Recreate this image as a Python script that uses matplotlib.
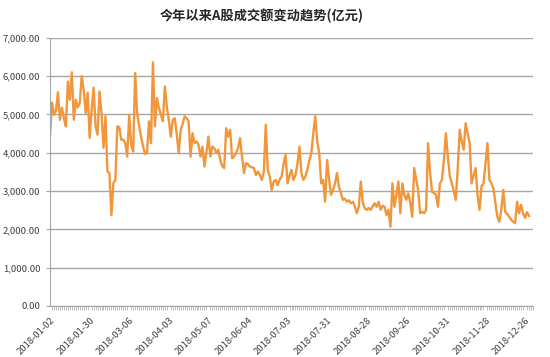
"""A-share daily turnover trend, 2018 (recreated chart)."""

import matplotlib

matplotlib.use("Agg")
import matplotlib.pyplot as plt
from matplotlib.ticker import FuncFormatter, MultipleLocator

plt.rcParams["font.family"] = ["Noto Sans CJK SC", "DejaVu Sans"]

TITLE = "今年以来A股成交额变动趋势(亿元)"
LINE_COLOR = "#F2963C"
GRID_COLOR = "#A6A6A6"
TEXT_COLOR = "#404040"

# daily turnover (亿元), one value per trading day
turnover = [
    4470, 5310, 4990, 5100, 5580, 4860, 5175, 4900, 4690, 5860,
    5385, 6100, 4860, 5385, 5180, 5300, 6000, 5650, 5040, 5570,
    4390, 5100, 5700, 4690, 4470, 5600, 5040, 4130, 4950, 3510,
    3470, 2370, 3210, 3290, 4690, 4660, 4340, 4340, 4260, 3900,
    4990, 4210, 4030, 6080, 5040, 4700, 4420, 4160, 3970, 4000,
    4820, 4250, 6360, 4690, 5430, 5170, 5000, 4820, 5730, 5200,
    4860, 4420, 4860, 4900, 4500, 3990, 4600, 4750, 4950, 4900,
    4820, 3900, 4510, 4250, 4300, 4210, 3900, 4160, 3640, 4000,
    4420, 3900, 4160, 4120, 3990, 4080, 3810, 3650, 3600, 4640,
    4420, 4600, 3860, 3900, 3990, 4120, 4380, 3900, 3470, 3730,
    3700, 3640, 3620, 3600, 3420, 3510, 3420, 3290, 3500, 4730,
    3550, 3380, 3030, 3250, 3290, 3150, 3300, 3380, 3700, 3940,
    3200, 3400, 3550, 3290, 3420, 3700, 4160, 3470, 3290, 3380,
    3550, 3800, 3990, 4500, 4950, 4300, 3990, 3200, 3290, 2720,
    3810, 3300, 2900, 3030, 3200, 3470, 3100, 2940, 2770, 2800,
    2720, 2760, 2680, 2720, 2600, 2420, 2590, 3250, 2700, 2550,
    2510, 2560, 2510, 2600, 2680, 2590, 2720, 2510, 2620, 2590,
    2370, 2510, 2070, 3200, 2590, 2900, 3250, 2420, 3200, 2900,
    2770, 2940, 2700, 2330, 3600, 3300, 3030, 2420, 2460, 2420,
    2500, 4250, 3500, 2980, 2950, 2900, 2590, 3200, 3290, 3800,
    4510, 3900, 3380, 3200, 3000, 2770, 3600, 4600, 4300, 4080,
    4770, 4500, 4250, 3200, 3400, 3600, 2900, 2510, 3120, 3200,
    3700, 4250, 3290, 3200, 3070, 2700, 2330, 2200, 2500, 3030,
    2460, 2400, 2330, 2250, 2200, 2160, 2720, 2420, 2640, 2420,
    2300, 2450, 2350,
]

# every 20th trading day gets a label
date_labels = [
    "2018-01-02", "2018-01-30", "2018-03-06", "2018-04-03", "2018-05-07",
    "2018-06-04", "2018-07-03", "2018-07-31", "2018-08-28", "2018-09-26",
    "2018-10-31", "2018-11-28", "2018-12-26",
]
label_step = 20

fig = plt.figure(figsize=(5.5, 3.57), dpi=100)
ax = fig.add_axes([0.091, 0.143, 0.878, 0.751])

ax.plot(range(len(turnover)), turnover, color=LINE_COLOR, lw=1.7, solid_joinstyle="round")

ax.set_ylim(0, 7000)
ax.set_xlim(0, len(turnover) + 1)
ax.yaxis.set_major_locator(MultipleLocator(1000))
ax.yaxis.set_major_formatter(FuncFormatter(lambda v, _: f"{v:,.2f}"))
ax.grid(axis="y", color=GRID_COLOR, lw=1)
ax.set_axisbelow(True)

ax.set_xticks([i * label_step for i in range(len(date_labels))])
ax.set_xticklabels(date_labels, rotation=45, ha="right", rotation_mode="anchor")
ax.xaxis.set_minor_locator(MultipleLocator(1))
ax.tick_params(axis="x", which="major", length=0, labelsize=6.8, labelcolor=TEXT_COLOR, pad=7)
ax.tick_params(axis="x", which="minor", length=3, width=0.5, color=GRID_COLOR)
ax.tick_params(axis="y", length=3, color=GRID_COLOR, labelsize=6.8, labelcolor=TEXT_COLOR, pad=4)

for side in ("top", "right"):
    ax.spines[side].set_visible(False)
ax.spines["left"].set_color(GRID_COLOR)
ax.spines["bottom"].set_color(GRID_COLOR)

fig.text(0.475, 0.955, TITLE, ha="center", va="center", fontsize=9.5,
         fontweight="bold", color="#262626")

fig.savefig("out.png", dpi=100)
plt.close(fig)
